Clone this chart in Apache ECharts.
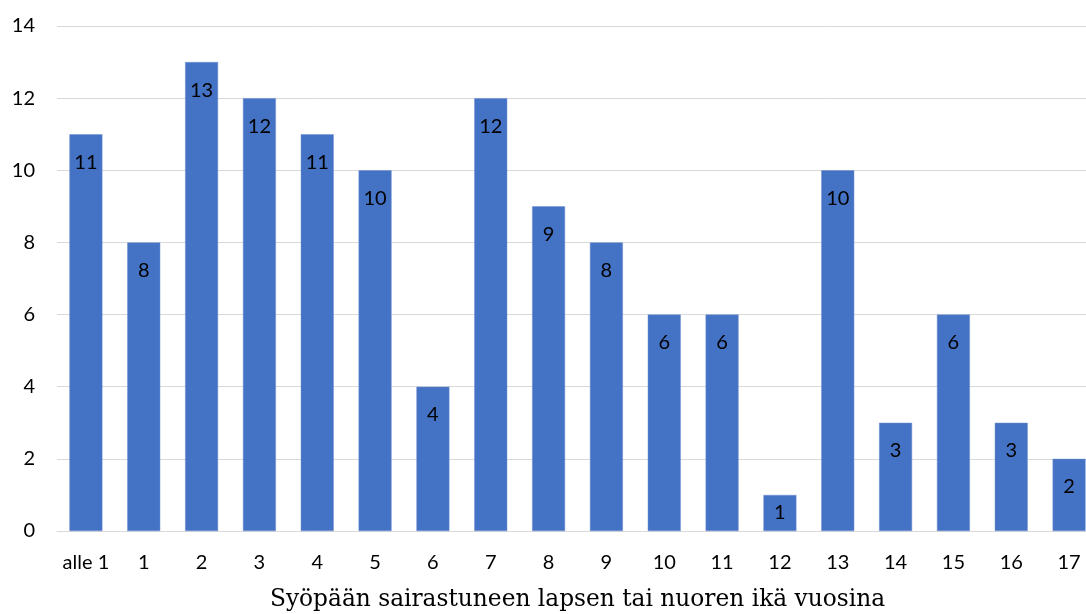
<!DOCTYPE html>
<html><head><meta charset="utf-8">
<script src="https://cdn.jsdelivr.net/npm/echarts@6/dist/echarts.min.js"></script>
<style>html,body{margin:0;padding:0;background:#fff}#c{width:1086px;height:614px}</style>
</head><body><div id="c"></div>
<script>
const categories = ['alle 1','1','2','3','4','5','6','7','8','9','10','11','12','13','14','15','16','17'];
const counts = [11,8,13,12,11,10,4,12,9,8,6,6,1,10,3,6,3,2];
const yTicks = {min:0, max:14, interval:2};
const xTitle = 'Syöpään sairastuneen lapsen tai nuoren ikä vuosina';

const chart = echarts.init(document.getElementById('c'));
const font = 'Lato, "Open Sans", sans-serif';
chart.setOption({
  animation:false,
  grid:{left:57, width:1041, top:26, height:505, containLabel:false, outerBoundsMode:'none'},
  xAxis:{type:'category', data:categories,
    axisLine:{lineStyle:{color:'#d9d9d9', width:1}},
    axisTick:{show:false},
    axisLabel:{color:'#000', fontSize:20, fontFamily:font, margin:22, interval:0},
    name:xTitle, nameLocation:'middle', nameGap:57,
    nameTextStyle:{fontFamily:'"DejaVu Serif", serif', fontSize:23.3, color:'#000'}},
  yAxis:{type:'value', min:yTicks.min, max:yTicks.max, interval:yTicks.interval,
    axisLine:{show:false}, axisTick:{show:false},
    splitLine:{lineStyle:{color:'#d9d9d9', width:1}},
    axisLabel:{color:'#000', fontSize:20, fontFamily:font, margin:22}},
  series:[{type:'bar', barCategoryGap:'43%',
    itemStyle:{color:'#4472C4', borderColor:'#6f8fd0', borderWidth:0.5},
    data:counts.map(v => v < 2 ? {value:v, label:{position:'inside'}} : v),
    label:{show:true, position:'insideTop', distance:18, color:'#000', fontSize:20, fontFamily:font}
  }]
});
</script></body></html>
